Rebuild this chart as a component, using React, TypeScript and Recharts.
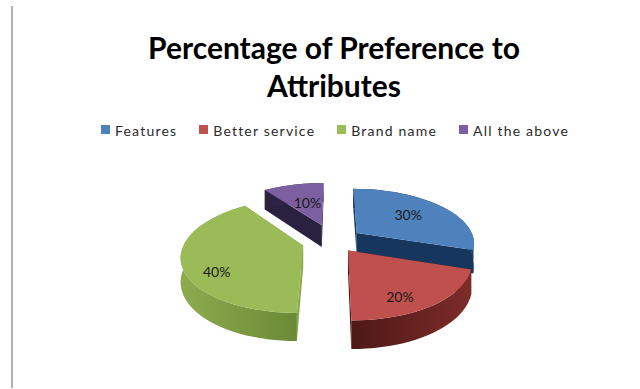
import { Legend, Pie, PieChart } from "recharts";

const categories = ["Features", "Better service", "Brand name", "All the above"];
const shares = [30, 20, 40, 10];
const topColors = ["#4f81bd", "#c0504d", "#9bbb59", "#7b5fa0"];
const wallFrom = ["#17365d", "#4e1816", "#8dab4e", "#2a2140"];
const wallTo = ["#1f4468", "#7d2c29", "#6b8a36", "#3a2c55"];
const explode = [30, 25, 31, 38];
const labelReach = [0.6, 0.64, 0.72, 0.47];
const labelDrop = [-2, 12, 12, -2];

const rows = categories.map((name, i) => ({ name, value: shares[i], fill: topColors[i] }));

// camera settings for the tilted disc
const TILT = 0.46;
const PERSPECTIVE = 0.17;
const DEPTH = 23;
const RAD = Math.PI / 180;

function project(cx: number, cy: number, r: number, x: number, y: number, drop = 0) {
  const s = 1 / (1 - (PERSPECTIVE * y) / r);
  return [cx + x * s, cy + TILT * y * s + drop * s];
}

function toPath(points: number[][]) {
  return "M" + points.map((p) => `${p[0].toFixed(1)},${p[1].toFixed(1)}`).join("L") + "Z";
}

function Slice3D(props: any) {
  const { cx, cy, outerRadius: r, startAngle, endAngle, midAngle, name } = props;
  const i = categories.indexOf(name);
  const ox = explode[i] * Math.cos(midAngle * RAD);
  const oy = -explode[i] * Math.sin(midAngle * RAD);
  const at = (rho: number, deg: number, drop = 0) =>
    project(cx, cy, r, ox + rho * Math.cos(deg * RAD), oy - rho * Math.sin(deg * RAD), drop);

  const steps = Math.max(2, Math.ceil(Math.abs(endAngle - startAngle) / 3));
  const angles = Array.from({ length: steps + 1 }, (_, n) => startAngle + ((endAngle - startAngle) * n) / steps);
  const arcTop = angles.map((a) => at(r, a));
  const arcBottom = angles.map((a) => at(r, a, DEPTH)).reverse();
  const gradId = `wall-${i}`;

  const radialWall = (deg: number) => toPath([at(0, deg), at(r, deg), at(r, deg, DEPTH), at(0, deg, DEPTH)]);

  return (
    <g>
      <defs>
        <linearGradient id={gradId} x1="0" y1="0" x2="1" y2="0">
          <stop offset="0%" stopColor={wallFrom[i]} />
          <stop offset="100%" stopColor={wallTo[i]} />
        </linearGradient>
      </defs>
      <path d={radialWall(startAngle)} fill={wallFrom[i]} />
      <path d={radialWall(endAngle)} fill={wallFrom[i]} />
      <path d={toPath([...arcTop, ...arcBottom])} fill={`url(#${gradId})`} />
      <path d={toPath([at(0, startAngle), ...arcTop])} fill={props.fill} />
    </g>
  );
}

function sliceLabel(props: any) {
  const { cx, cy, outerRadius: r, midAngle, name, value } = props;
  const i = categories.indexOf(name);
  const reach = explode[i] + labelReach[i] * r;
  const [x, y] = project(cx, cy, r, reach * Math.cos(midAngle * RAD), -reach * Math.sin(midAngle * RAD), labelDrop[i]);
  return (
    <text x={x} y={y} textAnchor="middle" dominantBaseline="central" fontFamily="Lato" fontSize={14} fill="#1a1a1a">
      {value}%
    </text>
  );
}

const legendGaps = [22, 22, 22, 0];

function LegendRow({ payload }: any) {
  return (
    <div style={{ display: "flex", fontFamily: "Lato", fontSize: 14, letterSpacing: 1.2, color: "#2b2b2b", lineHeight: "18px" }}>
      {(payload ?? []).map((entry: any, i: number) => (
        <div key={entry.value} style={{ display: "flex", alignItems: "center", marginRight: legendGaps[i] }}>
          <span style={{ width: 9, height: 9, background: entry.color, marginRight: 5, marginTop: -4 }} />
          <span>{entry.value}</span>
        </div>
      ))}
    </div>
  );
}

export default function App() {
  return (
    <div style={{ position: "absolute", left: 0, top: 0, width: 640, height: 389, background: "#fff", overflow: "hidden" }}>
      <div style={{ position: "absolute", left: 11, top: 6, width: 2, height: 382, background: "#b0b0b0" }} />
      <PieChart width={640} height={389} margin={{ top: 0, right: 0, bottom: 0, left: 0 }}>
        <text x={334} y={59} textAnchor="middle" fontFamily="Lato" fontWeight={700} fontSize={30} fill="#000">
          Percentage of Preference to
        </text>
        <text x={334} y={97} textAnchor="middle" fontFamily="Lato" fontWeight={700} fontSize={30} fill="#000">
          Attributes
        </text>
        <Legend
          content={<LegendRow />}
          itemSorter={null}
          wrapperStyle={{ position: "absolute", left: 101, top: 122, width: 500 }}
        />
        <Pie
          data={rows}
          dataKey="value"
          nameKey="name"
          cx={333}
          cy={241}
          outerRadius={118}
          startAngle={90}
          endAngle={-270}
          stroke="none"
          shape={Slice3D}
          label={sliceLabel}
          labelLine={false}
          isAnimationActive={false}
        />
      </PieChart>
    </div>
  );
}
